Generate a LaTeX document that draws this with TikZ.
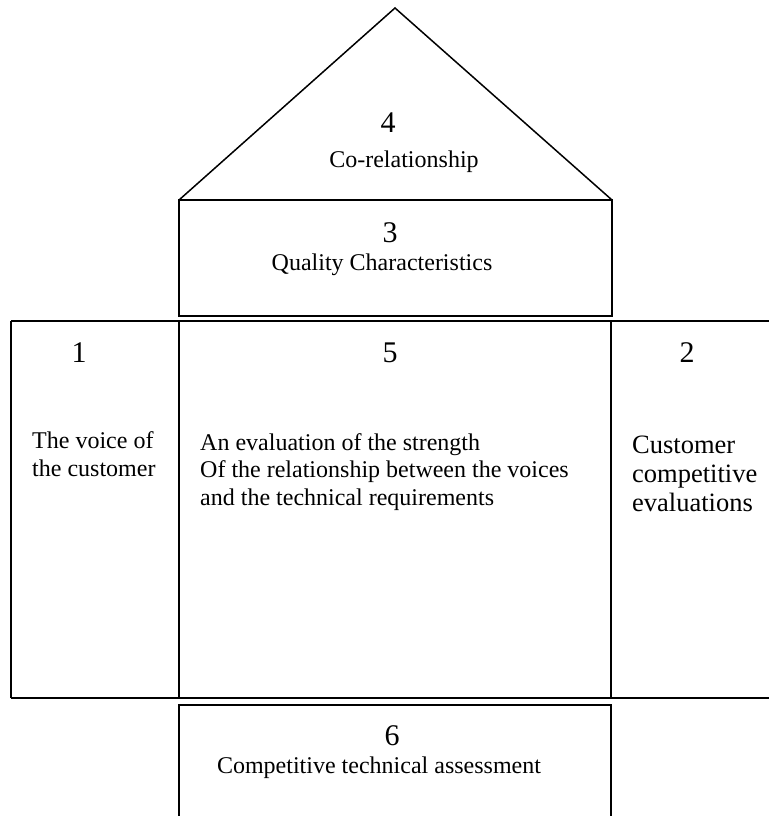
\documentclass[tikz,border=0pt]{standalone}
\usepackage{fontspec}
\setmainfont{Liberation Serif}
\begin{document}
\begin{tikzpicture}[x=1pt,y=-1pt,
  edge/.style={line width=2pt,line join=miter},
  roof/.style={line width=1.5pt,line join=miter},
  num/.style={inner sep=0pt,anchor=base,font=\fontsize{30}{30}\selectfont},
  lbl/.style={inner sep=0pt,anchor=base,font=\fontsize{24}{28}\selectfont},
  para/.style={inner sep=0pt,anchor=north west,align=left}]
\useasboundingbox (0,0) rectangle (769,816);
% corner coordinates
\coordinate (apex) at (395,8);
\coordinate (rl) at (179,200);
\coordinate (rr) at (612,200);
\coordinate (q1) at (179,316);
\coordinate (q2) at (612,316);
\coordinate (tl) at (11,321);
\coordinate (tr) at (769,321);
\coordinate (bl) at (11,698);
\coordinate (br) at (769,698);
\coordinate (c1t) at (179,321);
\coordinate (c1b) at (179,698);
\coordinate (c2t) at (611,321);
\coordinate (c2b) at (611,698);
\coordinate (s1b) at (179,816);
\coordinate (s1t) at (179,705);
\coordinate (s2t) at (611,705);
\coordinate (s2b) at (611,816);
% roof
\draw[roof] (rl) -- (apex) -- (rr);
% box 3
\draw[edge] (rl) rectangle (q2);
% main row
\draw[edge] (tl) -- (tr);
\draw[edge] (bl) -- (br);
\draw[edge] (tl) -- (bl);
\draw[edge] (c1t) -- (c1b);
\draw[edge] (c2t) -- (c2b);
% box 6
\draw[edge] (s1b) -- (s1t) -- (s2t) -- (s2b);
% texts
\node[num] (n4) at (388,132) {4};
\node[lbl] (t4) at (404,167) {Co-relationship};
\node[num] (n3) at (390,242) {3};
\node[lbl] (t3) at (382,270) {Quality Characteristics};
\node[num] (n1) at (79,362) {1};
\node[num] (n5) at (390,362) {5};
\node[num] (n2) at (687,362) {2};
\node[para,font=\fontsize{24}{28}\selectfont] (t1) at (32,431) {The voice of\\the customer};
\node[para,font=\fontsize{24}{27.5}\selectfont] (t5) at (200,433) {An evaluation of the strength\\Of the relationship between the voices\\and the technical requirements};
\node[para,font=\fontsize{26.5}{29}\selectfont] (t2) at (632,435.5) {Customer\\competitive\\evaluations};
\node[num] (n6) at (392,745) {6};
\node[lbl] (t6) at (379,773) {Competitive technical assessment};
\end{tikzpicture}
\end{document}
